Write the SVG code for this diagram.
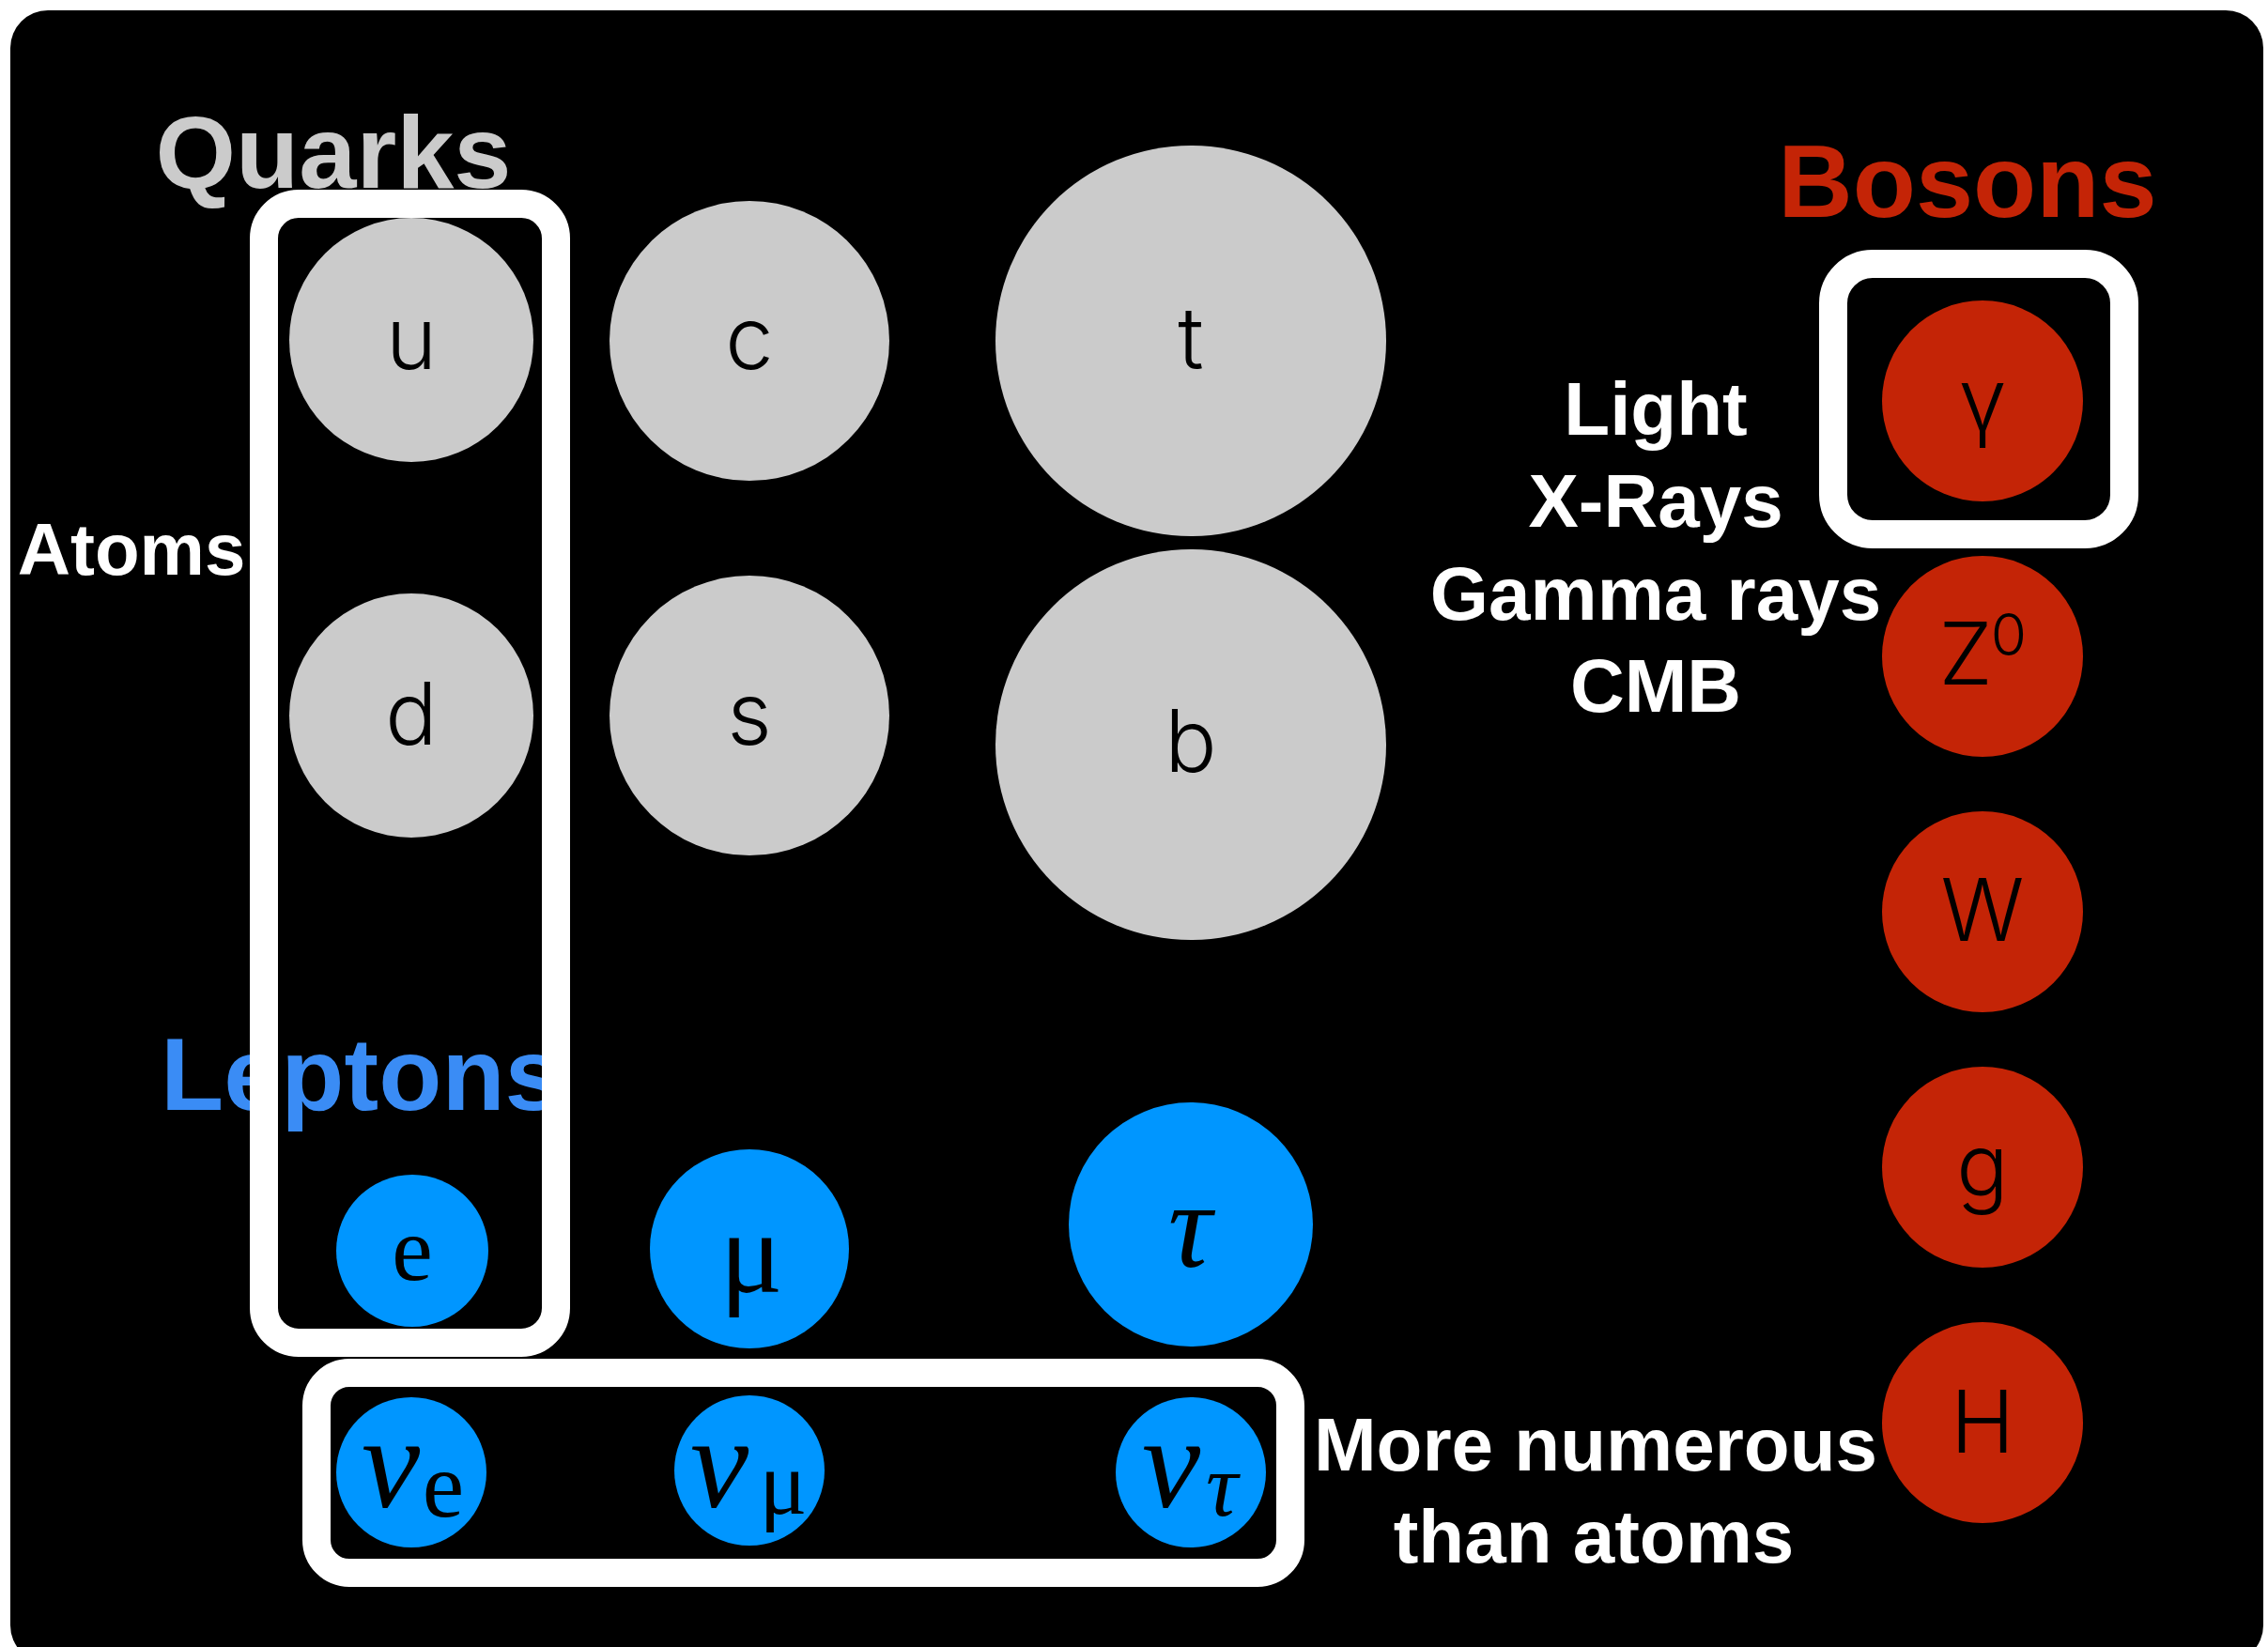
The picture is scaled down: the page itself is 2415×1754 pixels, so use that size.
<svg xmlns="http://www.w3.org/2000/svg" width="2415" height="1754" viewBox="0 0 2415 1754">
<style>
.bg{fill:#000}
.frame{fill:none;stroke:#fff;stroke-width:30}
.q{fill:#cbcbcb}
.l{fill:#0096ff}
.bo{fill:#c42406}
.sym{font-family:Inter,"Liberation Sans",sans-serif;font-weight:300;font-size:92px;fill:#000;text-anchor:middle}
.gr{font-family:"Liberation Serif","DejaVu Serif",serif;fill:#000}
.head{font-family:"Liberation Sans",Arial,sans-serif;font-weight:bold;font-size:110px}
.lab{font-family:"Liberation Sans",Arial,sans-serif;font-weight:bold;font-size:80px;fill:#fff;text-anchor:middle}
</style>
<rect class="bg" x="11" y="11" width="2399" height="1760" rx="40"/>

<g id="titles">
<text class="head" x="355" y="200" fill="#cbcbcb" text-anchor="middle">Quarks</text>
<text class="head" x="171" y="1182" fill="#3a8cf5">Leptons</text>
<text class="head" x="2095" y="231" fill="#c42406" text-anchor="middle">Bosons</text>
</g>

<g id="labels">
<text class="lab" x="140" y="612" style="font-size:78px">Atoms</text>
<text class="lab" x="1763" y="463">Light</text>
<text class="lab" x="1763" y="561">X-Rays</text>
<text class="lab" x="1763" y="660">Gamma rays</text>
<text class="lab" x="1763" y="758">CMB</text>
<text class="lab" x="1699" y="1566">More numerous</text>
<text class="lab" x="1697" y="1664">than atoms</text>
</g>

<g id="node-u"><circle class="q" cx="438" cy="362" r="130"/><text class="sym" x="438" y="393">u</text></g>
<g id="node-d"><circle class="q" cx="438" cy="762" r="130"/><text class="sym" x="438" y="793">d</text></g>
<g id="node-c"><circle class="q" cx="798" cy="363" r="149"/><text class="sym" x="798" y="393">c</text></g>
<g id="node-s"><circle class="q" cx="798" cy="762" r="149"/><text class="sym" x="798" y="793">s</text></g>
<g id="node-t"><circle class="q" cx="1268" cy="363" r="208"/><text class="sym" x="1268" y="393">t</text></g>
<g id="node-b"><circle class="q" cx="1268" cy="793" r="208"/><text class="sym" x="1268" y="822">b</text></g>

<g id="node-e"><circle class="l" cx="439" cy="1332" r="81"/><text class="gr" x="439" y="1363" font-size="98" text-anchor="middle">e</text></g>
<g id="node-mu"><circle class="l" cx="798" cy="1330" r="106"/><text class="gr" x="800" y="1376" font-size="125" text-anchor="middle">μ</text></g>
<g id="node-tau"><circle class="l" cx="1268" cy="1304" r="130"/><text class="gr" x="1267" y="1349" font-size="130" font-style="italic" text-anchor="middle">τ</text></g>
<g id="node-nue"><circle class="l" cx="438" cy="1568" r="80"/><text class="gr" x="416" y="1605" font-size="140" font-style="italic" text-anchor="middle">ν</text><text class="gr" x="472" y="1615" font-size="100" text-anchor="middle">e</text></g>
<g id="node-numu"><circle class="l" cx="798" cy="1566" r="80"/><text class="gr" x="766" y="1605" font-size="140" font-style="italic" text-anchor="middle">ν</text><text class="gr" x="834" y="1612" font-size="95" text-anchor="middle">μ</text></g>
<g id="node-nutau"><circle class="l" cx="1268" cy="1568" r="80"/><text class="gr" x="1247" y="1605" font-size="140" font-style="italic" text-anchor="middle">ν</text><text class="gr" x="1301" y="1614" font-size="95" font-style="italic" text-anchor="middle">τ</text></g>

<g id="node-gamma"><circle class="bo" cx="2111" cy="427" r="107"/><text class="sym" x="2111" y="458">γ</text></g>
<g id="node-Z0"><circle class="bo" cx="2111" cy="699" r="107"/><text class="sym" x="2093" y="729">Z</text><text class="sym" x="2139" y="698" style="font-size:62px">0</text></g>
<g id="node-W"><circle class="bo" cx="2111" cy="971" r="107"/><text class="sym" x="2111" y="1002">W</text></g>
<g id="node-g"><circle class="bo" cx="2111" cy="1243" r="107"/><text class="sym" x="2111" y="1274">g</text></g>
<g id="node-H"><circle class="bo" cx="2111" cy="1515" r="107"/><text class="sym" x="2111" y="1547">H</text></g>

<g id="connectors">
<rect id="box-atoms" class="frame" x="281" y="217" width="311" height="1213" rx="37"/>
<rect id="box-neutrinos" class="frame" x="337" y="1462" width="1037" height="213" rx="35"/>
<rect id="box-light" class="frame" x="1952" y="281" width="310" height="288" rx="42"/>
</g>
</svg>
